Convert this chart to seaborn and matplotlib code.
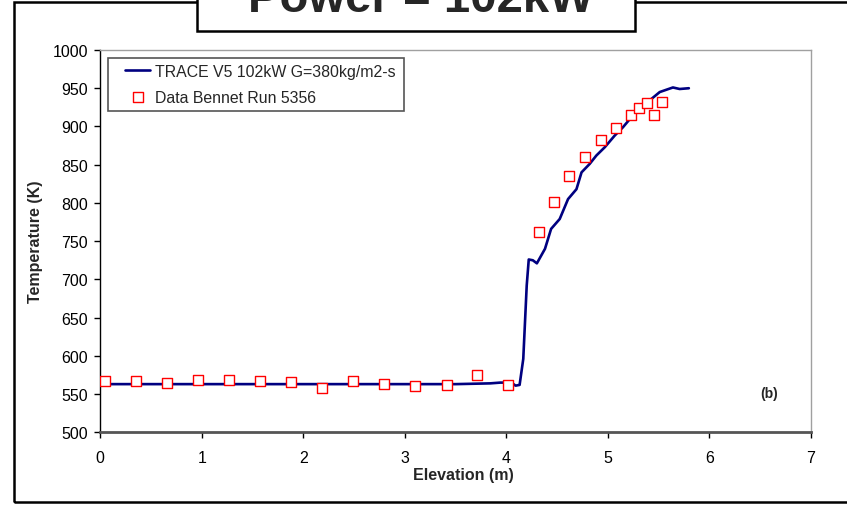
import matplotlib
matplotlib.use("Agg")
import matplotlib.pyplot as plt
import seaborn as sns
import pandas as pd
from matplotlib.patches import Rectangle

sns.set_style("white")
plt.rcParams['font.family'] = ['Liberation Sans', 'DejaVu Sans']

# TRACE V5 calculation (line)
trace_x = [0.0, 0.5, 1.0, 1.5, 2.0, 2.5, 3.0, 3.5, 3.84, 3.94, 4.05, 4.09, 4.13,
           4.166, 4.20, 4.22, 4.26, 4.30, 4.38, 4.44, 4.525, 4.607, 4.69, 4.74,
           4.82, 4.886, 4.97, 5.066, 5.148, 5.23, 5.31, 5.41, 5.51, 5.575, 5.64,
           5.706, 5.797]
trace_y = [563, 563, 563, 563, 563, 563, 563, 563, 564, 565, 565, 561, 562,
           596, 692, 726, 725, 721, 740, 766, 779, 805, 818, 840,
           851, 862, 873, 888, 899, 912, 923, 934, 945, 948, 951,
           949, 950]

# Bennet Run 5356 data
data_x = [0.05, 0.355, 0.66, 0.965, 1.27, 1.575, 1.877, 2.18, 2.487, 2.79, 3.10,
          3.41, 3.71, 4.02, 4.318, 4.47, 4.62, 4.77, 4.93, 5.075, 5.23, 5.31,
          5.385, 5.457, 5.53]
data_y = [567, 567, 564, 569, 569, 567.5, 566, 558.5, 567.5, 563, 560.5,
          561.5, 575, 561.5, 761.5, 801.5, 835, 860.5, 882.5, 898, 915.5, 924.5,
          931, 915.5, 932.5]

title = "Power = 102kW"
line_label = "TRACE V5 102kW G=380kg/m2-s"
data_label = "Data Bennet Run 5356"

fig = plt.figure(figsize=(8.47, 5.06), dpi=100)
W, H = 847, 506

# outer frame
fig.patches.append(Rectangle((14 / W, (H - 503) / H), 1.2, (503 - 3.3) / H,
                             transform=fig.transFigure, fill=False,
                             edgecolor='black', linewidth=1.8, zorder=0))
# title box
fig.patches.append(Rectangle((196.5 / W, (H - 31.5) / H), (635 - 196.5) / W, 0.2,
                             transform=fig.transFigure, facecolor='white',
                             edgecolor='black', linewidth=1.8, zorder=1))
fig.text(421 / W, (H - 12) / H, title, ha='center', va='baseline',
         fontsize=34, fontweight='bold', zorder=2)

ax = fig.add_axes([100.3 / W, (H - 433.3) / H, (811 - 100.3) / W, (433.3 - 51) / H])

df_line = pd.DataFrame({"x": trace_x, "y": trace_y})
df_pts = pd.DataFrame({"x": data_x, "y": data_y})
sns.lineplot(data=df_line, x="x", y="y", ax=ax, color='#000080', linewidth=1.9,
             label=line_label, sort=False)
sns.scatterplot(data=df_pts, x="x", y="y", ax=ax, marker='s', s=50,
                facecolor='white', edgecolor='#FF0000', linewidth=1.0,
                label=data_label, zorder=3)

ax.set_xlim(0, 7)
ax.set_ylim(500, 1000)
ax.set_xticks(range(0, 8))
ax.set_yticks(range(500, 1001, 50))
ax.tick_params(axis='both', direction='out', length=4, width=1, labelsize=11.5,
               colors='black', bottom=True, left=True)
ax.tick_params(axis='y', pad=5)
ax.tick_params(axis='x', pad=9)

for side in ['top', 'right']:
    ax.spines[side].set_color('#a0a0a0')
    ax.spines[side].set_linewidth(1.0)
ax.spines['left'].set_color('black')
ax.spines['left'].set_linewidth(1.0)
ax.spines['bottom'].set_color('#555555')
ax.spines['bottom'].set_linewidth(2.0)

ax.set_xlabel("Elevation (m)", fontsize=11.5, fontweight='bold', labelpad=1)
ax.xaxis.label.set_x((463.8 - 100.3) / (811 - 100.3))
ax.set_ylabel("Temperature (K)", fontsize=11.5, fontweight='bold', labelpad=7)

ax.text(6.585, 552, "(b)", fontsize=10, fontweight='bold', ha='center', va='center')

# legend without its own frame; the frame is drawn separately
ax_w_px = 811 - 100.3
ax_h_px = 433.3 - 51
leg = ax.legend(loc='upper left',
                bbox_to_anchor=((125 - 100.3) / ax_w_px, (433.3 - 64.5) / ax_h_px),
                borderaxespad=0, borderpad=0, fontsize=11.4, frameon=False,
                handlelength=1.6, handletextpad=0.3, labelspacing=0.7)
fig.canvas.draw()
bb = leg.get_window_extent()
right_px = bb.x1 + 8
box_left, box_top, box_bot = 108.3, 59, 111.7
fig.patches.append(Rectangle((box_left / W, (H - box_bot) / H),
                             (right_px - box_left) / W, (box_bot - box_top) / H,
                             transform=fig.transFigure, fill=False,
                             edgecolor='#555555', linewidth=1.2, zorder=5))

fig.savefig("out.png", dpi=100)
